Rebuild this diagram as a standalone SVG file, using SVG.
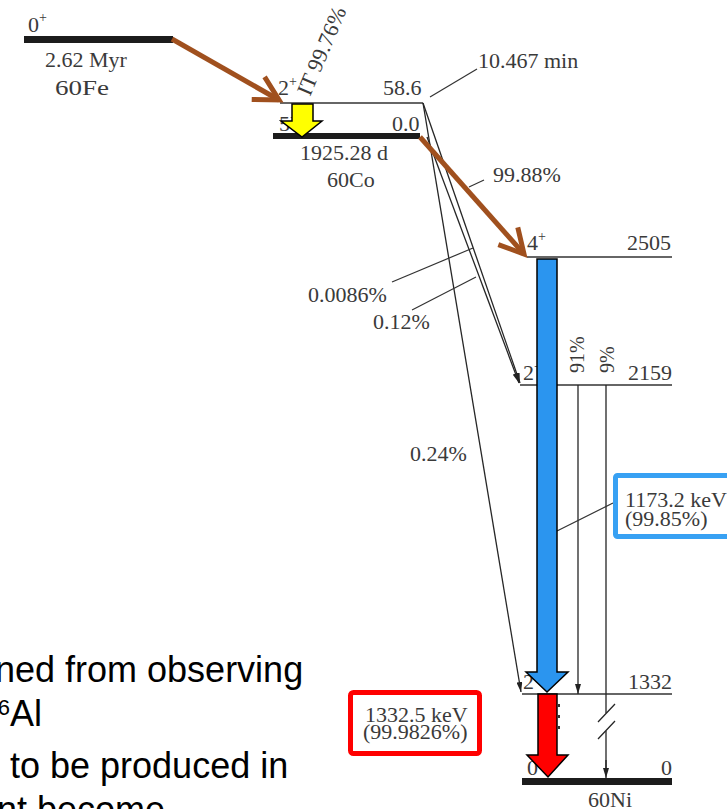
<svg xmlns="http://www.w3.org/2000/svg" width="727" height="809" viewBox="0 0 727 809">
<defs>
<style>
.t{font-family:"Liberation Serif","Times New Roman",serif;font-size:22px;fill:#3a3a3a}
.sm{font-size:20px}
.sup{font-size:14px}
.lv{stroke:#333;stroke-width:1.4;fill:none}
.bar{fill:#1c1c1c}
.ln{stroke:#262626;stroke-width:1.3;fill:none}
.arr{marker-end:url(#ah)}
.ld{stroke:#333;stroke-width:1.2;fill:none}
.br{stroke:#a0501e;stroke-width:5;fill:none;marker-end:url(#bh)}
.big{font-family:"Liberation Sans",Arial,sans-serif;font-size:36px;fill:#000}
.fat{stroke:#000;stroke-width:1.5;stroke-linejoin:miter}
</style>
<marker id="ah" markerUnits="userSpaceOnUse" markerWidth="10" markerHeight="6" viewBox="0 0 10 6" refX="10" refY="3" orient="auto">
<path d="M0,0 L10,3 L0,6 z" fill="#222"/>
</marker>
<marker id="bh" markerUnits="userSpaceOnUse" markerWidth="40" markerHeight="40" viewBox="-32 -20 40 40" refX="0" refY="0" orient="auto" overflow="visible">
<path d="M-24,-13 L0,0 L-24,13" stroke="#a0501e" stroke-width="5" fill="none"/>
</marker>
</defs>
<rect width="727" height="809" fill="#fff"/>

<g id="text-block">
<text class="big" x="-5" y="682">ned from observing</text>
<text class="big"><tspan x="-14.5" y="715" font-size="22">26</tspan><tspan x="10" y="726">Al</tspan></text>
<text class="big" x="10" y="778">to be produced in</text>
<text class="big" x="-3" y="822">nt become</text>
</g>

<g id="fe60">
<rect class="bar" x="24" y="36" width="149" height="7"/>
<text class="t" x="28" y="32">0<tspan class="sup" dy="-10">+</tspan></text>
<text class="t" x="45" y="67">2.62 Myr</text>
<text class="t" x="55" y="95" textLength="54" lengthAdjust="spacingAndGlyphs">60Fe</text>
</g>

<g id="co60m">
<path class="lv" d="M280,103 H423"/>
<text class="t" x="278" y="95">2<tspan class="sup" dy="-9">+</tspan></text>
<text class="t" x="383" y="95">58.6</text>
<text class="t" transform="translate(310,97) rotate(-67)">IT 99.76%</text>
<text class="t" x="478" y="68">10.467 min</text>
</g>

<g id="co60">
<rect class="bar" x="273" y="133" width="147" height="6"/>
<text class="t" x="279" y="131">5<tspan class="sup" dy="-9">+</tspan></text>
<text class="t" x="392" y="131">0.0</text>
<text class="t" x="300" y="160">1925.28 d</text>
<text class="t" x="327" y="187">60Co</text>
</g>

<g id="ni2505">
<path class="lv" d="M527,257 H672"/>
<text class="t" x="527" y="250">4<tspan class="sup" dy="-9">+</tspan></text>
<text class="t" x="627" y="250">2505</text>
</g>

<g id="ni2159">
<path class="lv" d="M520,385 H672"/>
<text class="t" x="523" y="380">2<tspan class="sup" dy="-9">+</tspan></text>
<text class="t" x="628" y="380">2159</text>
<text class="t sm" transform="translate(584,373) rotate(-90)">91%</text>
<text class="t sm" transform="translate(614,373) rotate(-90)">9%</text>
</g>

<g id="ni1332">
<path class="lv" d="M522,694 H672"/>
<text class="t" x="523" y="689">2<tspan class="sup" dy="-9">+</tspan></text>
<text class="t" x="628" y="689">1332</text>
</g>

<g id="ni0">
<rect class="bar" x="522" y="778" width="150" height="7"/>
<text class="t" x="527" y="775">0</text>
<text class="t" x="661" y="775">0</text>
<text class="t" x="588" y="807">60Ni</text>
</g>

<g id="labels">
<text class="t" x="493" y="182">99.88%</text>
<text class="t" x="308" y="302">0.0086%</text>
<text class="t" x="373" y="329">0.12%</text>
<text class="t" x="410" y="461">0.24%</text>
</g>

<g id="connectors">
<path class="ln arr" d="M423,103 L521,692"/>
<path class="ln arr" d="M423,103 L520,383"/>
<path class="ln arr" d="M427,137 L519,383"/>
<path class="ln arr" d="M578,385 V694"/>
<path class="ln" d="M606,385 V713 M606,731 V770"/>
<path class="ln arr" d="M606,760 V778"/>
<path class="ln" d="M598,722 L615,704 M598,739 L615,721"/>
<path class="ld" d="M430,97 L477,69"/>
<path class="ld" d="M469,187 L484,180"/>
<path class="ld" d="M392,282 L473,248"/>
<path class="ld" d="M412,310 L476,277"/>
<path class="ld" d="M557,531 L613,503"/>
<path d="M559,704 V734" stroke="#333" stroke-width="2" stroke-dasharray="3 8"/>
<path class="br" d="M172,39 L279,100"/>
<path class="br" d="M420,137 L524,254"/>
<polygon class="fat" fill="#ffff00" points="292,104 313,104 313,121 322,121 302,137 281,121 292,121"/>
<polygon class="fat" fill="#2b95ef" points="537,259 557,259 557,672 568,672 547,692 526,672 537,672"/>
<polygon class="fat" fill="#ff0000" points="538,694 557,694 557,755 568,755 548,777 527,755 538,755"/>
</g>

<g id="callout-1173">
<rect x="615.5" y="475.5" width="125" height="61" rx="2" fill="#fff" stroke="#38a1f3" stroke-width="5"/>
<text class="t" x="625" y="507">1173.2 keV</text>
<text class="t" x="625" y="526">(99.85%)</text>
</g>

<g id="callout-1332">
<rect x="350.5" y="692.5" width="129" height="61" rx="3" fill="#fff" stroke="#ff0000" stroke-width="5"/>
<text class="t" x="365" y="722">1332.5 keV</text>
<text class="t" x="363" y="739">(99.9826%)</text>
</g>
</svg>
